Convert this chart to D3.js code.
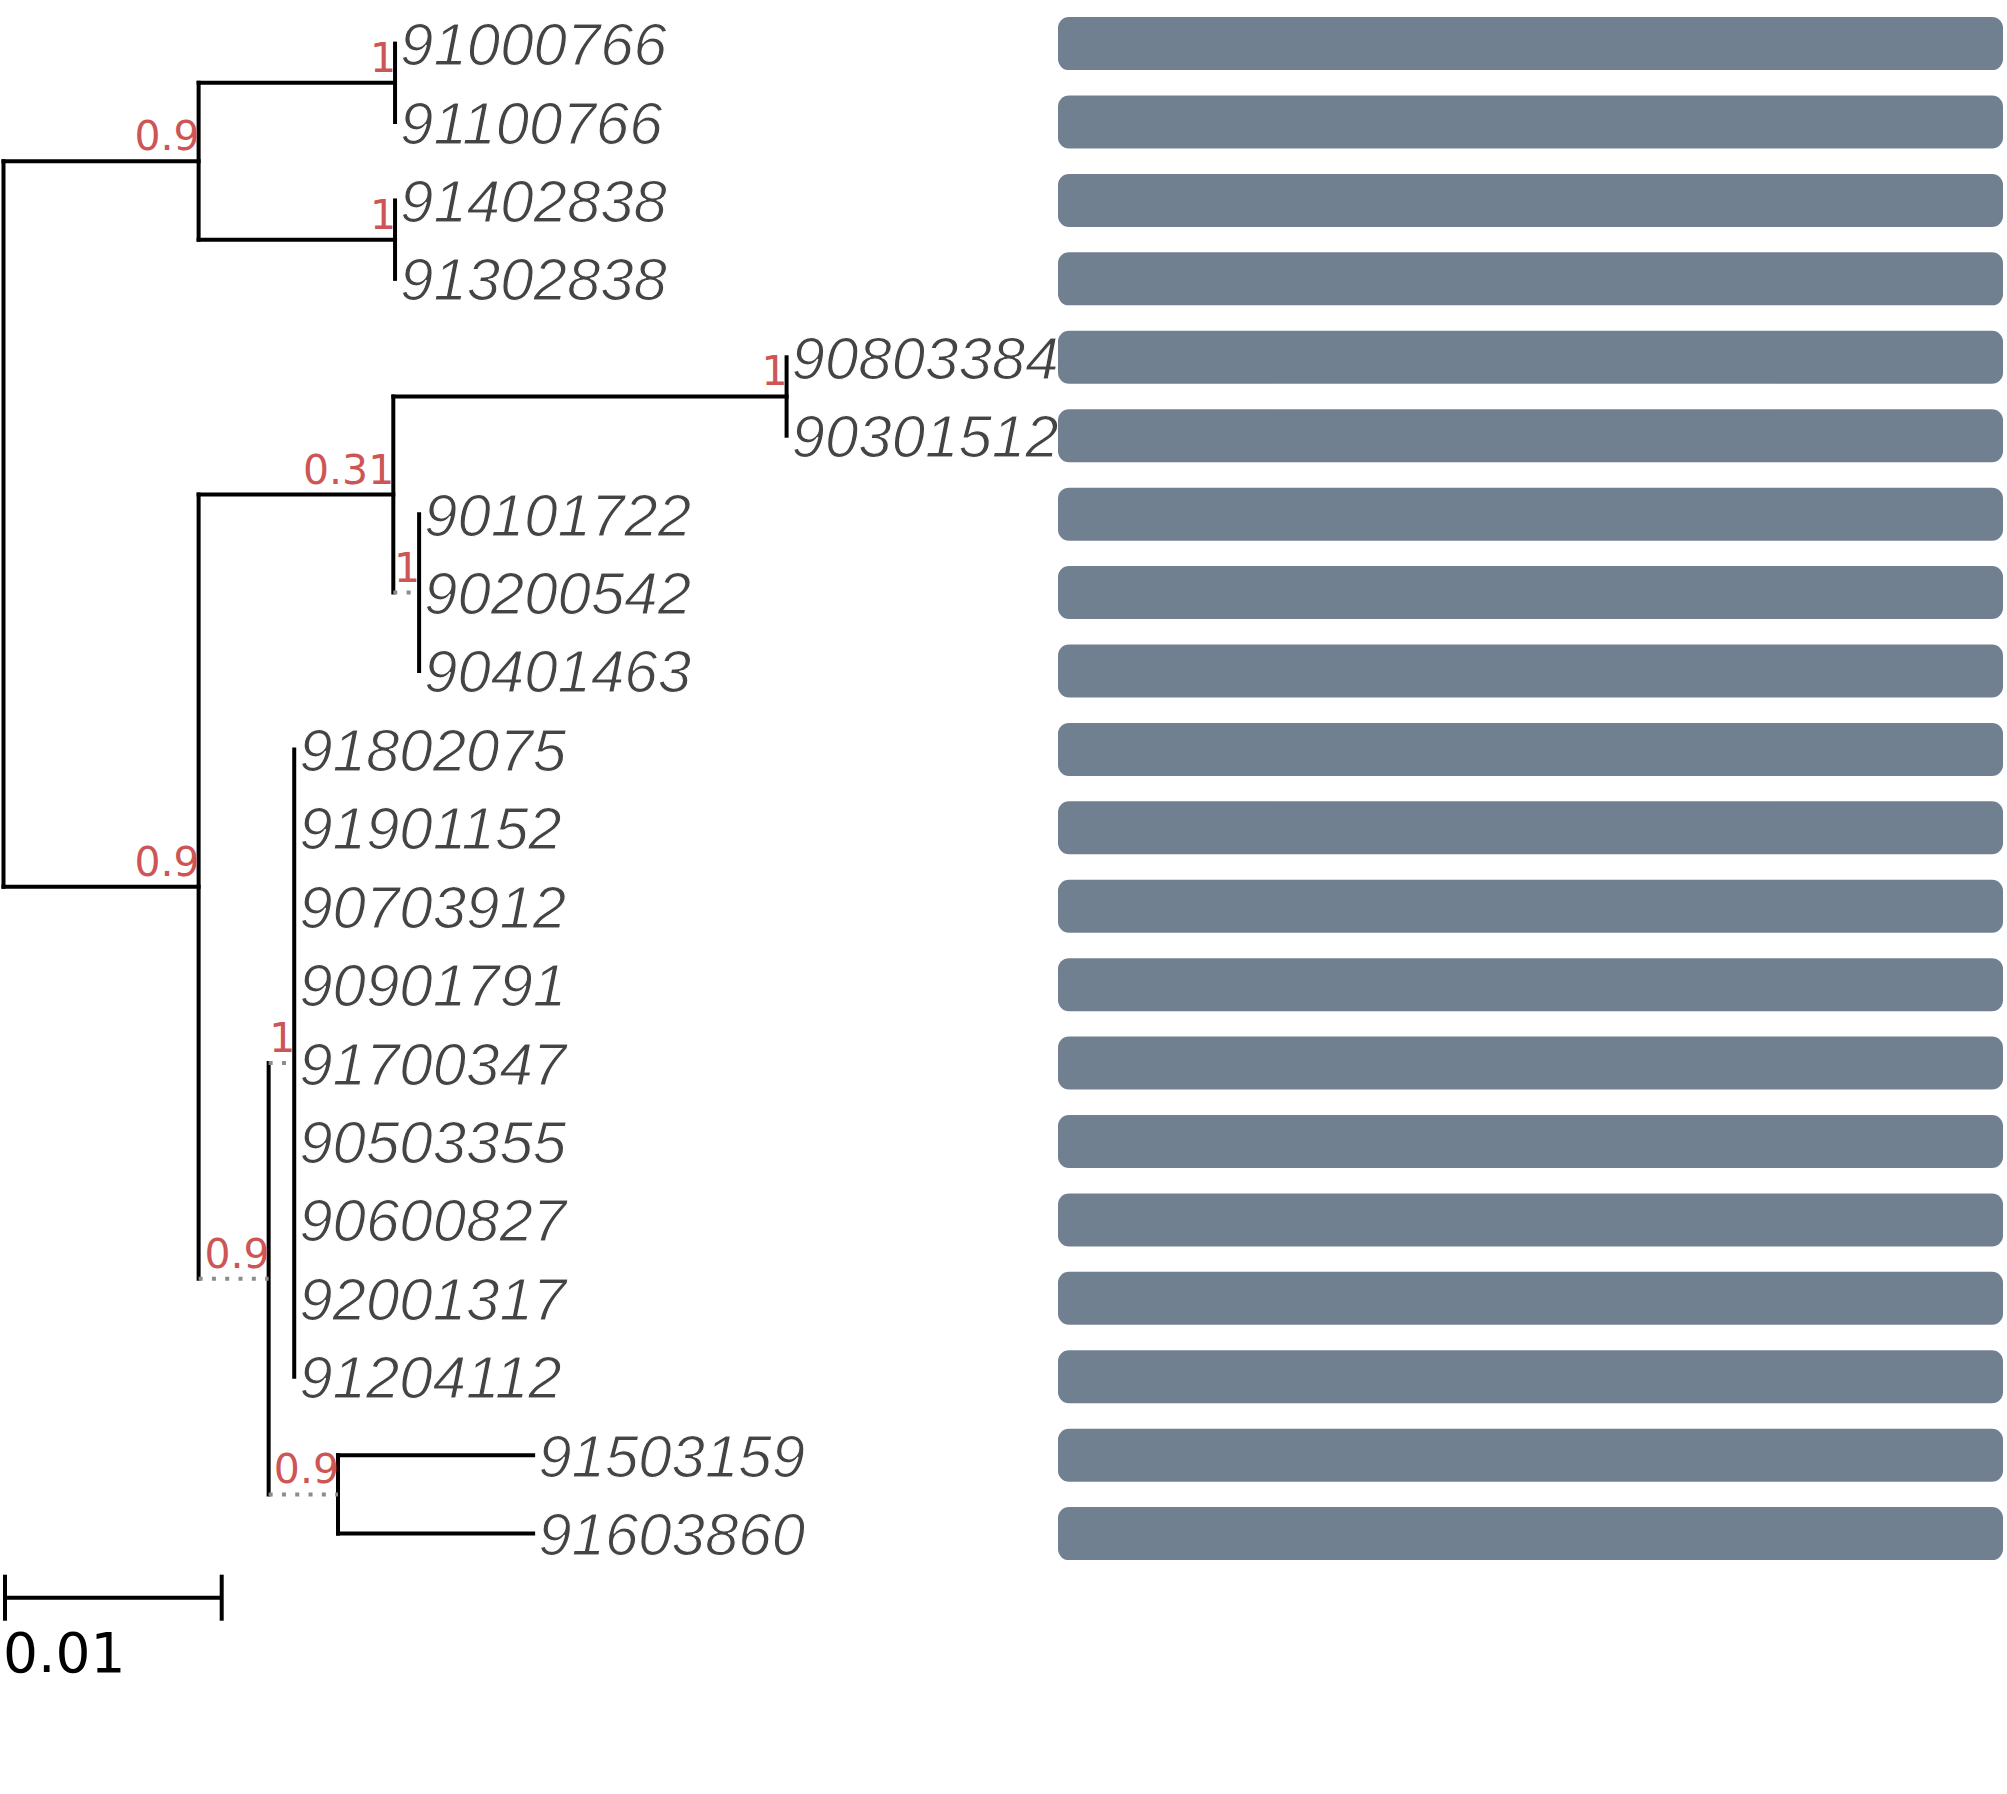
<!DOCTYPE html>
<html>
<head>
<meta charset="utf-8">
<script src="https://cdn.jsdelivr.net/npm/d3@7"></script>
<style>
  html, body { margin: 0; padding: 0; background: #ffffff; }
  svg { display: block; }
</style>
</head>
<body>
<div id="chart"></div>
<script>
// ---------------- DATA ----------------
// Tip labels, top to bottom
const tipLabels = [
  "91000766", "91100766", "91402838", "91302838", "90803384",
  "90301512", "90101722", "90200542", "90401463", "91802075",
  "91901152", "90703912", "90901791", "91700347", "90503355",
  "90600827", "92001317", "91204112", "91503159", "91603860"
];
// Parent clade of each tip
const tipParents = [
  "A1", "A1", "A2", "A2", "B1a",
  "B1a", "B1b", "B1b", "B1b", "B2a",
  "B2a", "B2a", "B2a", "B2a", "B2a",
  "B2a", "B2a", "B2a", "B2b", "B2b"
];
// Branch length leading to each tip
const tipLengths = [
  0, 0, 0, 0, 0,
  0, 0, 0, 0, 0,
  0, 0, 0, 0, 0,
  0, 0, 0, 0.009, 0.009
];
// Internal nodes
const cladeIds      = ["root", "A",    "A1",     "A2",     "B",    "B1",     "B1a",    "B1b",    "B2",     "B2a",    "B2b"];
const cladeParents  = ["",     "root", "A",      "A",      "root", "B",      "B1",     "B1",     "B",      "B2",     "B2"];
const cladeLengths  = [0,      0.009,  0.00906,  0.00906,  0.009,  0.00898,  0.01814,  0.00119,  0.00323,  0.00118,  0.0032];
const cladeSupport  = ["",     "0.9",  "1",      "1",      "0.9",  "0.31",   "1",      "1",      "0.9",    "1",      "0.9"];
// Branches drawn as dotted (unresolved / short) edges
const dottedBranches = ["B1b", "B2", "B2a", "B2b"];
// Bar track values (all full length)
const barValues = tipLabels.map(() => 1);
// Scale bar
const scaleBarValue = 0.01;
const scaleBarLabel = "0.01";

// ---------------- LAYOUT ----------------
const W = 2007, H = 1794;
const svg = d3.select("#chart").append("svg")
  .attr("width", W).attr("height", H)
  .attr("viewBox", `0 0 ${W} ${H}`);
svg.append("rect").attr("width", W).attr("height", H).attr("fill", "#ffffff");

// build table
const rows = [];
cladeIds.forEach((id, i) => rows.push({
  id, parent: cladeParents[i] || null, length: cladeLengths[i], support: cladeSupport[i], tip: false
}));
tipLabels.forEach((lab, i) => rows.push({
  id: lab, parent: tipParents[i], length: tipLengths[i], support: "", tip: true
}));

const root = d3.stratify().id(d => d.id).parentId(d => d.parent)(rows);

// distances
root.each(n => {
  n.dist = n.parent ? n.parent.dist + n.data.length : 0;
});

const xScale = d3.scaleLinear().domain([0, 0.01]).range([3.5, 220.3]);
const yScale = d3.scalePoint().domain(tipLabels).range([43.6, 1533.6]);

// y positions: tips by order, internal = mean of children
root.eachAfter(n => {
  if (!n.children) n.y = yScale(n.id);
  else n.y = d3.mean(n.children, c => c.y);
  n.x = xScale(n.dist);
});

const gTree = svg.append("g");

// vertical connectors
root.descendants().filter(n => n.children).forEach(n => {
  const ys = n.children.map(c => c.y);
  gTree.append("line")
    .attr("x1", n.x).attr("x2", n.x)
    .attr("y1", d3.min(ys)).attr("y2", d3.max(ys))
    .attr("stroke", "#000").attr("stroke-width", 4)
    .attr("stroke-linecap", "square");
});

// horizontal branches
root.descendants().filter(n => n.parent).forEach(n => {
  if (n.x - n.parent.x < 0.5) return;
  const dotted = dottedBranches.includes(n.id);
  gTree.append("line")
    .attr("x1", n.parent.x).attr("x2", n.x)
    .attr("y1", n.y).attr("y2", n.y)
    .attr("stroke", dotted ? "#8c8c8c" : "#000")
    .attr("stroke-width", 4)
    .attr("stroke-dasharray", dotted ? "4,9.3" : null)
    .attr("stroke-linecap", dotted ? "butt" : "square");
});

// support labels
root.descendants().filter(n => n.children && n.data.support).forEach(n => {
  gTree.append("text")
    .attr("x", n.x + 1)
    .attr("y", n.y - 11)
    .attr("text-anchor", "end")
    .attr("font-family", "DejaVu Sans")
    .attr("font-size", 41)
    .attr("fill", "#CD5555")
    .text(n.data.support);
});

// tip labels
root.leaves().forEach(n => {
  gTree.append("text")
    .attr("x", n.x + 5)
    .attr("y", n.y + 21.5)
    .attr("font-family", "Liberation Sans")
    .attr("font-style", "italic")
    .attr("font-size", 60)
    .attr("fill", "#444444")
    .attr("stroke", "#ffffff")
    .attr("stroke-width", 1.1)
    .text(n.id);
});

// bars
const barX = d3.scaleLinear().domain([0, 1]).range([1058, 2003]);
const barH = 53;
svg.append("g").selectAll("rect")
  .data(tipLabels.map((t, i) => ({ t, v: barValues[i] })))
  .join("rect")
  .attr("x", barX(0))
  .attr("y", d => yScale(d.t) - barH / 2)
  .attr("width", d => barX(d.v) - barX(0))
  .attr("height", barH)
  .attr("rx", 11).attr("ry", 11)
  .attr("fill", "#708090");

// scale bar
const sbScale = d3.scaleLinear().domain([0, 0.01]).range([5, 221.7]);
const sbY = 1597.7;
const gSb = svg.append("g");
gSb.append("line")
  .attr("x1", sbScale(0)).attr("x2", sbScale(scaleBarValue))
  .attr("y1", sbY).attr("y2", sbY)
  .attr("stroke", "#000").attr("stroke-width", 4);
[0, scaleBarValue].forEach(v => {
  gSb.append("line")
    .attr("x1", sbScale(v)).attr("x2", sbScale(v))
    .attr("y1", sbY - 23).attr("y2", sbY + 23)
    .attr("stroke", "#000").attr("stroke-width", 4);
});
gSb.append("text")
  .attr("x", 3)
  .attr("y", 1672)
  .attr("font-family", "DejaVu Sans")
  .attr("font-size", 55)
  .attr("fill", "#000")
  .text(scaleBarLabel);
</script>
</body>
</html>
